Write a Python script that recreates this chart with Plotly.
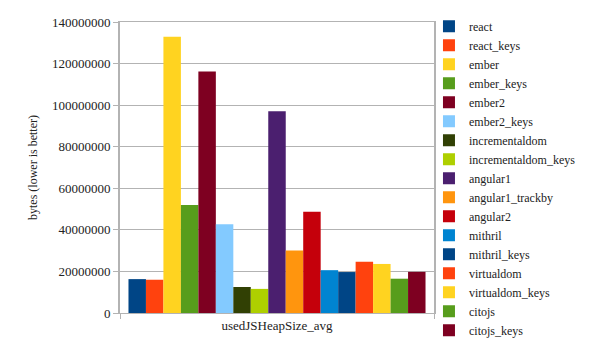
import plotly.graph_objects as go

category = ["usedJSHeapSize_avg"]
libraries = ["react", "react_keys", "ember", "ember_keys", "ember2", "ember2_keys",
             "incrementaldom", "incrementaldom_keys", "angular1", "angular1_trackby",
             "angular2", "mithril", "mithril_keys", "virtualdom", "virtualdom_keys",
             "citojs", "citojs_keys"]
values = [16.3e6, 16.0e6, 132.9e6, 51.9e6, 116.2e6, 42.7e6,
          12.5e6, 11.6e6, 97.1e6, 30.1e6,
          48.7e6, 20.6e6, 19.7e6, 24.6e6, 23.6e6,
          16.5e6, 19.8e6]
colors = ["#004586", "#ff420e", "#ffd320", "#579d1c", "#7e0021", "#83caff",
          "#314004", "#aecf00", "#4b1f6f", "#ff950e", "#c5000b", "#0084d1",
          "#004586", "#ff420e", "#ffd320", "#579d1c", "#7e0021"]
y_ticks = [0, 20000000, 40000000, 60000000, 80000000, 100000000, 120000000, 140000000]

FONT = "Liberation Serif, Times New Roman, serif"
GRID = "#b3b3b3"

fig = go.Figure()
for name, v, c in zip(libraries, values, colors):
    fig.add_trace(go.Bar(x=category, y=[v], name=name, marker=dict(color=c, line=dict(width=0))))

fig.update_layout(
    width=601, height=353,
    margin=dict(l=120, r=167, t=19, b=40),
    paper_bgcolor="white", plot_bgcolor="white",
    barmode="group", bargap=0.054, bargroupgap=0,
    font=dict(family=FONT, size=13, color="#222"),
    legend=dict(x=0.984, xanchor="left", y=1.035, yanchor="top",
                font=dict(family=FONT, size=12, color="#222"),
                traceorder="normal", itemwidth=30, tracegroupgap=0,
                maxheight=353,
                bgcolor="rgba(0,0,0,0)"),
    showlegend=True,
)
fig.update_yaxes(
    range=[0, 140000000], tickvals=y_ticks, ticktext=[str(t) for t in y_ticks],
    showgrid=True, gridcolor=GRID, gridwidth=1,
    showline=True, linecolor=GRID, linewidth=2, mirror=True,
    ticks="outside", ticklen=5, tickcolor=GRID,
    zeroline=False,
    tickfont=dict(family=FONT, size=13, color="#222"),
    title=dict(text="bytes (lower is better)", font=dict(family=FONT, size=12, color="#222"), standoff=12),
)
fig.update_xaxes(
    showline=True, linecolor=GRID, linewidth=1, mirror=True,
    ticks="outside", ticklen=5, tickcolor=GRID, tickson="boundaries",
    tickfont=dict(family=FONT, size=13, color="#222"),
    showgrid=False,
)
fig.write_html("out.html")
